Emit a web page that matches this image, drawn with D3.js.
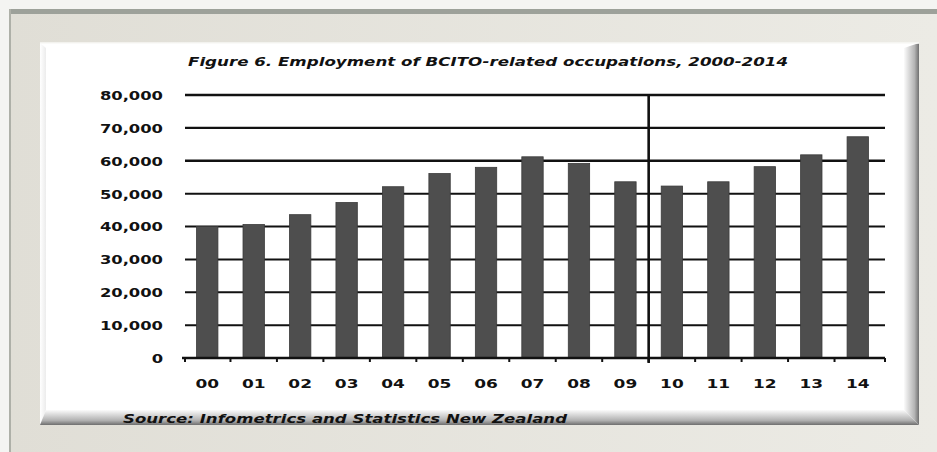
<!DOCTYPE html>
<html><head><meta charset="utf-8">
<script src="https://cdn.jsdelivr.net/npm/d3@7"></script>
<style>
html,body{margin:0;padding:0;background:#f3f3f1;}
svg{display:block;}
text{font-family:"DejaVu Sans",Verdana,sans-serif;font-weight:bold;fill:#111;}
</style></head>
<body>
<svg id="c" width="937" height="452"></svg>
<script>
const years = ["00","01","02","03","04","05","06","07","08","09","10","11","12","13","14"];
const employment = [40000,40600,43600,47300,52100,56100,58000,61200,59200,53600,52300,53600,58200,61800,67300];
const yTicks = [0,10000,20000,30000,40000,50000,60000,70000,80000];
const titleText = "Figure 6. Employment of BCITO-related occupations, 2000-2014";
const sourceText = "Source: Infometrics and Statistics New Zealand";
const dividerAfter = "09";

const svg = d3.select("#c");
const defs = svg.append("defs");

// page background / frame
const bgGrad = defs.append("linearGradient").attr("id","frameG").attr("x1","0").attr("x2","1").attr("y1","0").attr("y2","0");
bgGrad.append("stop").attr("offset","0").attr("stop-color","#e0ded6");
bgGrad.append("stop").attr("offset","1").attr("stop-color","#ecebe5");
svg.append("rect").attr("x",0).attr("y",0).attr("width",937).attr("height",452).attr("fill","#f4f4f2");
svg.append("rect").attr("x",9).attr("y",9).attr("width",928).attr("height",443).attr("fill","url(#frameG)");
svg.append("rect").attr("x",9).attr("y",9).attr("width",928).attr("height",5).attr("fill","#9da19a");
svg.append("rect").attr("x",9).attr("y",9).attr("width",2).attr("height",443).attr("fill","#aeb0a8");

// inner panel with bevel
const L=40,T=43,R=919,B=425,bw=15;
const rg = defs.append("linearGradient").attr("id","rG").attr("x1","0").attr("x2","1").attr("y1","0").attr("y2","0");
rg.append("stop").attr("offset","0").attr("stop-color","#fbfbfb");
rg.append("stop").attr("offset","0.7").attr("stop-color","#b4b4b4");
rg.append("stop").attr("offset","1").attr("stop-color","#707070");
const bg = defs.append("linearGradient").attr("id","bG").attr("x1","0").attr("x2","0").attr("y1","0").attr("y2","1");
bg.append("stop").attr("offset","0").attr("stop-color","#fbfbfb");
bg.append("stop").attr("offset","0.7").attr("stop-color","#b0b0b0");
bg.append("stop").attr("offset","1").attr("stop-color","#6e6e6e");
const lg = defs.append("linearGradient").attr("id","lG").attr("x1","0").attr("x2","1").attr("y1","0").attr("y2","0");
lg.append("stop").attr("offset","0").attr("stop-color","#ffffff");
lg.append("stop").attr("offset","1").attr("stop-color","#ececec");
svg.append("rect").attr("x",L).attr("y",T).attr("width",R-L).attr("height",B-T).attr("fill","#ffffff");
svg.append("polygon").attr("points",`${L},${T} ${L+6},${T+5} ${L+6},${B-bw} ${L},${B}`).attr("fill","url(#lG)");
svg.append("polygon").attr("points",`${R},${T} ${R},${B} ${R-bw},${B-bw} ${R-bw},${T+5}`).attr("fill","url(#rG)");
svg.append("polygon").attr("points",`${L},${B} ${R},${B} ${R-bw},${B-bw} ${L+6},${B-bw}`).attr("fill","url(#bG)");
svg.append("line").attr("x1",L).attr("x2",R).attr("y1",T).attr("y2",T).attr("stroke","#f8f8f6").attr("stroke-width",1.5);

// scales
const x = d3.scaleBand().domain(years).range([184,881]).paddingInner(0.54).paddingOuter(0.27);
const y = d3.scaleLinear().domain([0,80000]).range([358,95]);
const gridLeft = 185, gridRight = 885;

function stretch(sel, k){
  sel.each(function(){
    const w = this.getComputedTextLength();
    d3.select(this).attr("textLength", w*k).attr("lengthAdjust","spacingAndGlyphs");
  });
}

// gridlines
svg.append("g").selectAll("line").data(yTicks.filter(d=>d>0)).join("line")
  .attr("x1",gridLeft).attr("x2",gridRight)
  .attr("y1",d=>y(d)).attr("y2",d=>y(d))
  .attr("stroke","#111").attr("stroke-width",d=>d>=60000?2.4:2);

// bars
svg.append("g").selectAll("rect").data(years).join("rect")
  .attr("x",d=>x(d)).attr("width",x.bandwidth())
  .attr("y",(d,i)=>y(employment[i]))
  .attr("height",(d,i)=>y(0)-y(employment[i]))
  .attr("fill","#4e4e4e").attr("stroke","#3a3a3a").attr("stroke-width",0.8);

// divider
const i9 = years.indexOf(dividerAfter);
const divX = (x(years[i9])+x.bandwidth()+x(years[i9+1]))/2;
svg.append("line").attr("x1",divX).attr("x2",divX).attr("y1",y(80000)-1).attr("y2",y(0)+5)
  .attr("stroke","#111").attr("stroke-width",2.6);

// x axis
const xAxis = d3.axisBottom(x).tickSize(0).tickPadding(0);
svg.append("line").attr("x1",gridLeft-3).attr("x2",gridRight).attr("y1",y(0)).attr("y2",y(0)).attr("stroke","#111").attr("stroke-width",2.4);
const boundaries = years.map((d,i)=> i===0 ? gridLeft : (x(years[i-1])+x.bandwidth()+x(d))/2).concat([gridRight]);
svg.append("g").selectAll("line").data(boundaries).join("line")
  .attr("x1",d=>d).attr("x2",d=>d).attr("y1",y(0)).attr("y2",y(0)+4)
  .attr("stroke","#111").attr("stroke-width",2);
const gx = svg.append("g").attr("transform",`translate(0,${y(0)})`).call(xAxis);
gx.select(".domain").remove();
gx.selectAll("text").attr("y",30).attr("dy",0).attr("font-size",12.3)
  .style("font-family","'DejaVu Sans',sans-serif").style("font-weight","bold").attr("fill","#111");
stretch(gx.selectAll("text"),1.38);

// y labels
const yAxis = d3.axisLeft(y).tickValues(yTicks).tickFormat(d3.format(",")).tickSize(0).tickPadding(0);
const gy = svg.append("g").attr("transform","translate(163,0)").call(yAxis);
gy.select(".domain").remove();
gy.selectAll("text").attr("x",0).attr("dy","0.36em").attr("font-size",12.3)
  .style("font-family","'DejaVu Sans',sans-serif").style("font-weight","bold").attr("fill","#111");
stretch(gy.selectAll("text"),1.33);

// title & source
svg.append("text").attr("x",488).attr("y",66).attr("text-anchor","middle")
  .attr("font-size",12.3).attr("font-style","italic").text(titleText)
  .attr("textLength",600).attr("lengthAdjust","spacingAndGlyphs");
svg.append("text").attr("x",123).attr("y",423)
  .attr("font-size",12.3).attr("font-style","italic").text(sourceText)
  .attr("textLength",444).attr("lengthAdjust","spacingAndGlyphs");
</script>
</body></html>
